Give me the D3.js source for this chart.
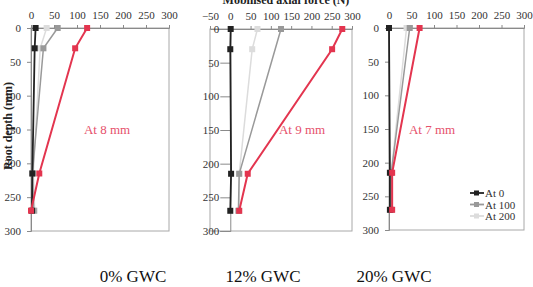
<!DOCTYPE html>
<html>
<head>
<meta charset="UTF-8">
<title></title>
<style>
  body { margin: 0; background: #fff; }
  text { font-family: "Liberation Serif", "DejaVu Serif", serif; }
</style>
</head>
<body>
<div id="chart"></div>
<script src="https://cdn.jsdelivr.net/npm/d3@7/dist/d3.min.js"></script>
<script>
// root depths (mm) where the gauges sit
var depths = [0, 30, 215, 270];
var depthTicks = [0, 50, 100, 150, 200, 250, 300];
var seriesNames = ["At 0", "At 100", "At 200"];

// 0% GWC
var gwc0_at0 = [10, 8, 3, 2];
var gwc0_at100 = [58, 27, 3, 6];
var gwc0_at200 = [34, 20, 5, 8];
var gwc0_peak = [122, 96, 18, 0];

// 12% GWC
var gwc12_at0 = [1, 0, 2, 0];
var gwc12_at100 = [125, null, 22, 20];
var gwc12_at200 = [67, 54, 22, 22];
var gwc12_peak = [276, 251, 43, 22];

// 20% GWC
var gwc20_at0 = [0, null, 2, 2];
var gwc20_at100 = [46, null, 5, 5];
var gwc20_at200 = [39, null, 5, 5];
var gwc20_peak = [68, null, 7, 7];

var panelTitles = ["0% GWC", "12% GWC", "20% GWC"];
var peakLabels = ["At 8 mm", "At 9 mm", "At 7 mm"];
var forceTicks1 = [0, 50, 100, 150, 200, 250, 300];
var forceTicks2 = [-50, 0, 50, 100, 150, 200, 250, 300];

var width = 533, height = 287;
var svg = d3.select("#chart").append("svg")
    .attr("width", width).attr("height", height);

var colors = ["#222222", "#999999", "#dcdcdc"];
var red = "#e3354f";

var panels = [
    {x0: 31, x1: 169, y0: 28, y1: 231, dom: [0, 300], ticks: forceTicks1,
     series: [gwc0_at0, gwc0_at100, gwc0_at200], peak: gwc0_peak,
     labelX: 107, titleX: 133},
    {x0: 210, x1: 352, y0: 29, y1: 231, dom: [-50, 300], ticks: forceTicks2,
     series: [gwc12_at0, gwc12_at100, gwc12_at200], peak: gwc12_peak,
     labelX: 302, titleX: 263},
    {x0: 389, x1: 524, y0: 28, y1: 230, dom: [0, 300], ticks: forceTicks1,
     series: [gwc20_at0, gwc20_at100, gwc20_at200], peak: gwc20_peak,
     labelX: 432, titleX: 394}
];

panels.forEach(function (p, i) {
    var x = d3.scaleLinear().domain(p.dom).range([p.x0, p.x1]);
    var y = d3.scaleLinear().domain([0, 300]).range([p.y0, p.y1]);
    var g = svg.append("g");

    // plot box
    g.append("rect")
        .attr("x", p.x0).attr("y", p.y0)
        .attr("width", p.x1 - p.x0).attr("height", p.y1 - p.y0)
        .attr("fill", "none").attr("stroke", "#a8a8a8");

    // top axis
    var xa = g.append("g").attr("transform", "translate(0," + p.y0 + ")")
        .call(d3.axisTop(x).tickValues(p.ticks).tickSize(3).tickPadding(6));
    // left axis crosses at 0
    var ya = g.append("g").attr("transform", "translate(" + x(0) + ",0)")
        .call(d3.axisLeft(y).tickValues(depthTicks).tickSize(i == 1 ? 10 : 4).tickPadding(i == 1 ? 1 : 6));
    [xa, ya].forEach(function (a) {
        a.select(".domain").attr("stroke", "#8a8a8a");
        a.selectAll(".tick line").attr("stroke", "#8a8a8a");
        a.selectAll("text").attr("font-size", 11).attr("fill", "#333")
            .attr("font-family", "Liberation Serif, serif");
    });

    var line = d3.line()
        .x(function (d) { return x(d.v); })
        .y(function (d) { return y(d.d); });

    function pts(vals) {
        return vals.map(function (v, k) { return {v: v, d: depths[k]}; })
            .filter(function (d) { return d.v != null; });
    }

    function drawSeries(vals, col, w, size) {
        var data = pts(vals);
        g.append("path").datum(data)
            .attr("d", line).attr("fill", "none")
            .attr("stroke", col).attr("stroke-width", w);
        g.selectAll(null).data(data).enter().append("rect")
            .attr("x", function (d) { return x(d.v) - size / 2; })
            .attr("y", function (d) { return y(d.d) - size / 2; })
            .attr("width", size).attr("height", size)
            .attr("fill", col);
    }

    drawSeries(p.series[2], colors[2], 1.5, 6);
    drawSeries(p.series[1], colors[1], 1.5, 6);
    drawSeries(p.series[0], colors[0], 1.8, 6);
    drawSeries(p.peak, red, 2, 6);

    g.append("text")
        .attr("x", p.labelX).attr("y", 134)
        .attr("text-anchor", "middle")
        .attr("font-size", 13).attr("fill", "#e6506b")
        .text(peakLabels[i]);

    g.append("text")
        .attr("x", p.titleX).attr("y", 282)
        .attr("text-anchor", "middle")
        .attr("font-size", 17).attr("fill", "#111")
        .text(panelTitles[i]);
});

// legend
var lg = svg.append("g");
seriesNames.forEach(function (name, k) {
    var yy = 193 + k * 11.5;
    lg.append("line").attr("x1", 470).attr("x2", 484)
        .attr("y1", yy).attr("y2", yy)
        .attr("stroke", colors[k]).attr("stroke-width", 1.8);
    lg.append("rect").attr("x", 474).attr("y", yy - 2.5)
        .attr("width", 5).attr("height", 5).attr("fill", colors[k]);
    lg.append("text").attr("x", 485).attr("y", yy + 4)
        .attr("font-size", 11).attr("fill", "#333").text(name);
});

// axis titles
svg.append("text")
    .attr("x", 286).attr("y", 4)
    .attr("text-anchor", "middle")
    .attr("font-size", 12).attr("font-weight", "bold").attr("fill", "#222")
    .text("Mobilised axial force (N)");

svg.append("text")
    .attr("transform", "translate(12,126) rotate(-90)")
    .attr("text-anchor", "middle")
    .attr("font-size", 12).attr("font-weight", "bold").attr("fill", "#222")
    .text("Root depth (mm)");
</script>
</body>
</html>
